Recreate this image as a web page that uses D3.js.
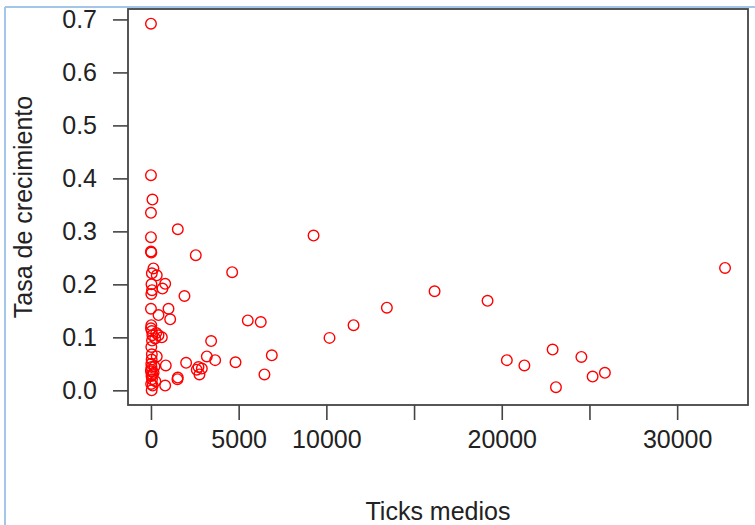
<!DOCTYPE html>
<html lang="es">
	<head>
		<meta charset="utf-8">
		<title>Tasa de crecimiento vs Ticks medios</title>
		<script type="text/javascript" src="https://cdn.jsdelivr.net/npm/d3@7"></script>
		<style type="text/css">
			body { margin: 0; background: #fff; }
			.axis path { display: none; }
			.axis line {
				stroke: #444;
				stroke-width: 1.6px;
			}
			.axis text {
				font-family: "Liberation Sans", Arial, sans-serif;
				font-size: 25px;
				fill: #222;
			}
			.lab {
				font-family: "Liberation Sans", Arial, sans-serif;
				font-size: 25px;
				fill: #222;
			}
		</style>
	</head>
	<body>
		<script type="text/javascript">

			// Ticks medios (x) and Tasa de crecimiento (y)
			var ticksMedios = [0, 0, 85, 0, 1530, 0, 0, 20, 2555, 9270,
				4630, 32730, 140, 50, 330, 810, 30, 655, 60, 20,
				1910, 16170, 19190, 13450, 0, 1000, 430, 1095, 5520, 6260,
				11550, 10180, 20, 0, 50, 430, 620, 240, 80, 60,
				300, 3430, 20, 330, 50, 3185, 3660, 4820, 6890, 2005,
				845, 2710, 2900, 2610, 2765, 6470, 1530, 1510, 20, 30,
				10, 150, 30, 60, 250, 810, 40, 100, 22900, 20290,
				21290, 24540, 25180, 25880, 23090, 0, 80, 40, 200, 10];
			var tasaCrecimiento = [0.692, 0.406, 0.360, 0.335, 0.304, 0.289, 0.262, 0.260, 0.255, 0.292,
				0.223, 0.231, 0.230, 0.221, 0.217, 0.201, 0.200, 0.192, 0.189, 0.182,
				0.178, 0.187, 0.169, 0.156, 0.154, 0.154, 0.142, 0.134, 0.132, 0.129,
				0.123, 0.099, 0.123, 0.117, 0.112, 0.104, 0.100, 0.098, 0.104, 0.094,
				0.108, 0.093, 0.082, 0.064, 0.068, 0.064, 0.057, 0.053, 0.066, 0.052,
				0.047, 0.044, 0.041, 0.039, 0.030, 0.030, 0.024, 0.021, 0.050, 0.044,
				0.039, 0.033, 0.027, 0.021, 0.017, 0.009, 0.000, 0.009, 0.077, 0.057,
				0.047, 0.063, 0.026, 0.033, 0.006, 0.036, 0.030, 0.058, 0.045, 0.012];

			var xTicks = [0, 5000, 10000, 15000, 20000, 25000, 30000];
			var xTickLabels = ["0", "5000", "10000", "", "20000", "", "30000"];
			var yTicks = [0, 0.1, 0.2, 0.3, 0.4, 0.5, 0.6, 0.7];

			var dataset = ticksMedios.map(function(d, i) { return [d, tasaCrecimiento[i]]; });

			var W = 755, H = 525;
			var box = {left: 128, top: 9, right: 748, bottom: 405};

			// R-style 4% padding around the data range
			function padded(ext) {
				var p = (ext[1] - ext[0]) * 0.04;
				return [ext[0] - p, ext[1] + p];
			}

			var xScale = d3.scaleLinear()
				.domain(padded(d3.extent(ticksMedios)))
				.range([box.left, box.right]);

			var yScale = d3.scaleLinear()
				.domain(padded(d3.extent(tasaCrecimiento)))
				.range([box.bottom, box.top]);

			var svg = d3.select("body")
				.append("svg")
				.attr("width", W)
				.attr("height", H);

			// light blue frame of the screenshot
			svg.append("line")
				.attr("x1", 5).attr("y1", 7).attr("x2", W).attr("y2", 7)
				.attr("stroke", "#a3c6e8").attr("stroke-width", 2);
			svg.append("line")
				.attr("x1", 5).attr("y1", 7).attr("x2", 5).attr("y2", H)
				.attr("stroke", "#a3c6e8").attr("stroke-width", 2);

			var xAxis = d3.axisBottom(xScale)
				.tickValues(xTicks)
				.tickSize(15)
				.tickPadding(10)
				.tickFormat(function(d, i) { return xTickLabels[i]; });

			var yAxis = d3.axisLeft(yScale)
				.tickValues(yTicks)
				.tickSize(15)
				.tickPadding(16)
				.tickFormat(d3.format(".1f"));

			svg.append("g")
				.attr("class", "axis")
				.attr("transform", "translate(0," + box.bottom + ")")
				.call(xAxis);

			svg.append("g")
				.attr("class", "axis")
				.attr("transform", "translate(" + box.left + ",0)")
				.call(yAxis);

			svg.append("rect")
				.attr("x", box.left)
				.attr("y", box.top)
				.attr("width", box.right - box.left)
				.attr("height", box.bottom - box.top)
				.attr("fill", "none")
				.attr("stroke", "#444")
				.attr("stroke-width", 1.8);

			svg.selectAll("circle")
				.data(dataset)
				.enter()
				.append("circle")
				.attr("cx", function(d) { return xScale(d[0]); })
				.attr("cy", function(d) { return yScale(d[1]); })
				.attr("r", 5.3)
				.attr("fill", "none")
				.attr("stroke", "#ff0000")
				.attr("stroke-width", 1.4);

			svg.append("text")
				.attr("class", "lab")
				.attr("x", (box.left + box.right) / 2)
				.attr("y", 520)
				.attr("text-anchor", "middle")
				.text("Ticks medios");

			svg.append("text")
				.attr("class", "lab")
				.attr("transform", "translate(32," + (box.top + box.bottom) / 2 + ") rotate(-90)")
				.attr("text-anchor", "middle")
				.text("Tasa de crecimiento");
		</script>
	</body>
</html>
